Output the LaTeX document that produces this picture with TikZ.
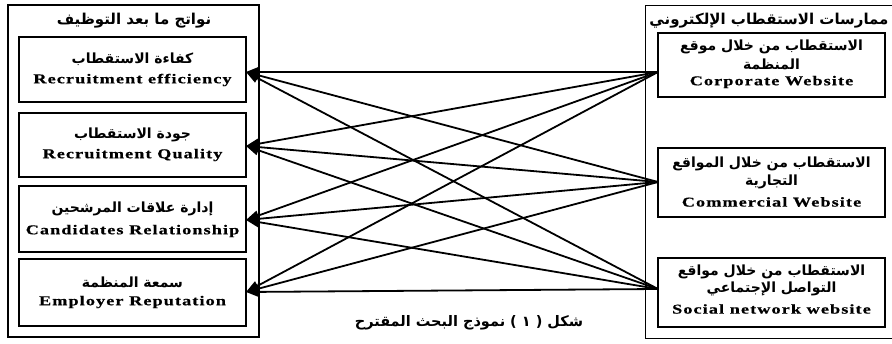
\documentclass[tikz,border=0pt]{standalone}
\usepackage{fontspec}
\usetikzlibrary{arrows.meta}
\TeXXeTstate=1
\setmainfont{Liberation Serif}
\newfontfamily\arabicfont[Script=Arabic]{DejaVu Sans}
\newfontfamily\enfont[FakeStretch=1.35,LetterSpace=8,FakeBold=0.5]{Liberation Serif}
\tikzset{
  box/.style={draw, line width=1.8pt, inner sep=0pt, minimum width=227pt},
  outerbox/.style={draw, line width=1.4pt, inner sep=0pt},
  ar/.style={font=\arabicfont\bfseries\fontsize{14}{16}\selectfont, inner sep=0pt},
  artitle/.style={font=\arabicfont\bfseries\fontsize{15}{17}\selectfont, inner sep=0pt},
  en/.style={font=\enfont\bfseries\fontsize{13.5}{15}\selectfont, inner sep=0pt},
  conn/.style={line width=1.8pt, -{Triangle[length=13pt,width=10pt]}},
}
\begin{document}
\begin{tikzpicture}[x=1pt,y=-1pt]
\useasboundingbox[fill=white] (0,0) rectangle (892,344);

% outer boxes
\node (outerL) [outerbox, minimum width=251pt, minimum height=332pt] at (133.5,171) {};
\node (outerR) [outerbox, minimum width=262pt, minimum height=333pt, anchor=north west] at (645,5) {};

% titles
\node (titleL) [artitle] at (134,21) {\beginR نواتج ما بعد التوظيف\endR};
\node (titleR) [artitle] at (769,21) {\beginR ممارسات الاستقطاب الإلكتروني\endR};

% left boxes
\node (l1) [box, minimum height=65pt] at (132.5,69.5) {};
\node (l2) [box, minimum height=64pt] at (132.5,145) {};
\node (l3) [box, minimum height=66pt] at (132.5,219) {};
\node (l4) [box, minimum height=67pt] at (132.5,292.5) {};

\node (l1a) [ar] at (132.5,59) {\beginR كفاءة الاستقطاب\endR};
\node (l1e) [en] at (132.5,80) {Recruitment efficiency};
\node (l2a) [ar] at (132.5,135) {\beginR جودة الاستقطاب\endR};
\node (l2e) [en] at (132.5,155) {Recruitment Quality};
\node (l3a) [ar] at (132.5,209) {\beginR إدارة علاقات المرشحين\endR};
\node (l3e) [en] at (132.5,231) {Candidates Relationship};
\node (l4a) [ar] at (132.5,282) {\beginR سمعة المنظمة\endR};
\node (l4e) [en] at (132.5,302) {Employer Reputation};

% right boxes
\node (rA) [box, minimum height=64pt] at (771.5,65) {};
\node (rB) [box, minimum height=69pt] at (771.5,182.5) {};
\node (rC) [box, minimum height=69pt] at (771.5,292.5) {};

\node (rA1) [ar] at (771.5,47) {\beginR الاستقطاب من خلال موقع\endR};
\node (rA2) [ar] at (771.5,64) {\beginR المنظمة\endR};
\node (rA3) [en] at (771.5,82) {Corporate Website};
\node (rB1) [ar] at (771.5,164) {\beginR الاستقطاب من خلال المواقع\endR};
\node (rB2) [ar] at (771.5,182) {\beginR التجارية\endR};
\node (rB3) [en] at (771.5,202) {Commercial Website};
\node (rC1) [ar] at (771.5,272) {\beginR الاستقطاب من خلال مواقع\endR};
\node (rC2) [ar] at (771.5,289) {\beginR التواصل الإجتماعي\endR};
\node (rC3) [en] at (771.5,309) {Social network website};

% ports
\coordinate (pA) at (658,72);
\coordinate (pB) at (658,182);
\coordinate (pC) at (658,289);
\coordinate (q1) at (246,72);
\coordinate (q2) at (246,146);
\coordinate (q3) at (246,220);
\coordinate (q4) at (246,292);

% connectors
\foreach \s in {pA,pB,pC}{
  \foreach \t in {q1,q2,q3,q4}{
    \draw[conn] (\s) -- (\t);
  }
}

% caption
\node (caption) [font=\arabicfont\bfseries\fontsize{14.5}{16}\selectfont, inner sep=0pt] at (469,323) {\beginR شكل \beginL) ١ (\endL{} نموذج البحث المقترح\endR};
\end{tikzpicture}
\end{document}
